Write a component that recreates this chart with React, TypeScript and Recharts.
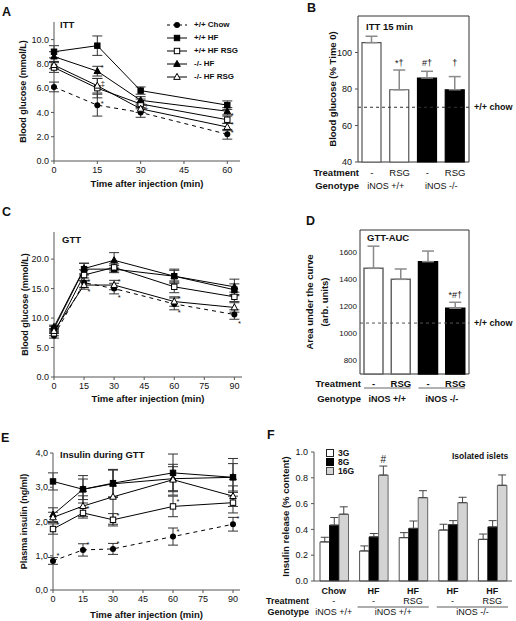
import React from "react";
import {
  LineChart,
  Line,
  BarChart,
  Bar,
  XAxis,
  YAxis,
  ErrorBar,
  LabelList,
  Legend,
  ReferenceLine,
  ReferenceArea,
  Cell,
} from "recharts";

const FONT = '"Liberation Sans", Arial, Helvetica, sans-serif';
const INK = "#111";
const AXIS = "#555";

// mouse groups shown in A, C and E
const groupNames = ["+/+ Chow", "+/+ HF", "+/+ HF RSG", "-/- HF", "-/- HF RSG"];

// A: insulin tolerance test, blood glucose (mmol/L)
const ittTimes = [0, 15, 30, 60];
const ittChow = [6.1, 4.6, 4.0, 2.2];
const ittHF = [9.0, 9.5, 5.8, 4.6];
const ittHFRsg = [7.7, 6.0, 4.7, 3.4];
const ittKoHF = [8.6, 7.4, 5.0, 4.1];
const ittKoHFRsg = [7.9, 6.2, 4.3, 2.8];
const ittChowErr = [0.4, 0.9, 0.4, 0.4];
const ittHFErr = [0.5, 0.8, 0.3, 0.35];
const ittHFRsgErr = [0.4, 0.8, 0.4, 0.3];
const ittKoHFErr = [0.4, 0.4, 0.3, 0.3];
const ittKoHFRsgErr = [0.3, 0.6, 0.3, 0.3];
const ittChowSig = ["", "*", "", "*"];
const ittHFSig = ["", "", "", ""];
const ittHFRsgSig = ["", "‡", "", "*"];
const ittKoHFSig = ["", "*", "", ""];
const ittKoHFRsgSig = ["", "", "‡", "*"];

// B: ITT 15 min, % of time 0
const ittPctTreat = ["-", "RSG", "-", "RSG"];
const ittPctGeno = ["iNOS +/+", "iNOS -/-"];
const ittPct = [105.4, 79.6, 86.0, 79.6];
const ittPctErr = [3.5, 10.8, 3.7, 7.2];
const ittPctSig = ["", "*†", "#†", "†"];
const ittPctChow = 70;

// C: glucose tolerance test, blood glucose (mmol/L)
const gttTimes = [0, 15, 30, 60, 90];
const gttChow = [7.0, 16.0, 15.0, 12.4, 10.6];
const gttHF = [8.2, 18.3, 18.3, 17.1, 14.8];
const gttHFRsg = [7.4, 17.3, 18.6, 15.3, 13.6];
const gttKoHF = [8.5, 18.4, 19.8, 17.1, 15.3];
const gttKoHFRsg = [7.8, 15.6, 15.6, 12.8, 11.8];
const gttChowErr = [0.4, 0.8, 0.9, 1.0, 0.8];
const gttHFErr = [0.4, 1.0, 0.6, 1.2, 1.0];
const gttHFRsgErr = [0.4, 0.9, 0.6, 1.0, 0.8];
const gttKoHFErr = [0.3, 0.9, 1.3, 1.0, 1.3];
const gttKoHFRsgErr = [0.3, 0.7, 0.8, 0.8, 0.8];
const gttChowSig = ["", "*", "*", "*", "*"];
const gttHFSig = ["", "", "", "", ""];
const gttHFRsgSig = ["", "", "", "", ""];
const gttKoHFSig = ["", "", "", "", ""];
const gttKoHFRsgSig = ["", "*", "*", "*", ""];

// D: GTT area under the curve
const aucTreat = ["-", "RSG", "-", "RSG"];
const aucGeno = ["iNOS +/+", "iNOS -/-"];
const auc = [1478, 1397, 1527, 1184];
const aucErr = [163, 76, 78, 44];
const aucSig = ["", "", "", "*#†"];
const aucChow = 1075;

// E: plasma insulin during GTT (ng/ml)
const insTimes = [0, 15, 30, 60, 90];
const insChow = [0.85, 1.17, 1.2, 1.56, 1.92];
const insHF = [3.17, 2.94, 3.12, 3.42, 3.29];
const insHFRsg = [1.78, 2.25, 2.05, 2.44, 2.55];
const insKoHF = [2.2, 2.94, 3.1, 3.25, 3.29];
const insKoHFRsg = [2.12, 2.45, 2.72, 3.22, 2.74];
const insChowErr = [0.1, 0.18, 0.16, 0.25, 0.2];
const insHFErr = [0.25, 0.4, 0.4, 0.55, 0.55];
const insHFRsgErr = [0.15, 0.15, 0.18, 0.3, 0.3];
const insKoHFErr = [0.2, 0.3, 0.4, 0.35, 0.4];
const insKoHFRsgErr = [0.15, 0.3, 0.8, 0.45, 0.3];
const insChowSig = ["*", "*", "*", "*", "*"];
const insHFSig = ["", "", "", "", ""];
const insHFRsgSig = ["*", "*", "*", "*", ""];
const insKoHFSig = ["", "", "", "", ""];
const insKoHFRsgSig = ["", "", "", "", ""];

// F: isolated islets, insulin release (% content)
const islDiet = ["Chow", "HF", "HF", "HF", "HF"];
const islTreat = ["-", "-", "RSG", "-", "RSG"];
const islGeno = ["iNOS +/+", "iNOS +/+", "iNOS -/-"];
const islGenoSpan = [[0, 0], [1, 2], [3, 4]];
const islLevels = ["3G", "8G", "16G"];
const isl3G = [0.303, 0.233, 0.336, 0.395, 0.323];
const isl8G = [0.433, 0.342, 0.408, 0.437, 0.419];
const isl16G = [0.518, 0.821, 0.646, 0.607, 0.742];
const isl3GErr = [0.036, 0.039, 0.039, 0.045, 0.041];
const isl8GErr = [0.059, 0.026, 0.057, 0.031, 0.049];
const isl16GErr = [0.057, 0.07, 0.054, 0.042, 0.08];
const isl16GSig = ["", "#", "", "", ""];

type Shape = "circle" | "square" | "openSquare" | "triangle" | "openTriangle";
const shapes: Shape[] = ["circle", "square", "openSquare", "triangle", "openTriangle"];
const islFills = ["#fff", "#000", "#d4d4d4"];
const islStrokes = ["#222", "#000", "#444"];

function Marker({ cx, cy, shape }: { cx?: number; cy?: number; shape: Shape }) {
  if (cx == null || cy == null) return null;
  const s = 2.7;
  const open = shape === "openSquare" || shape === "openTriangle";
  const fill = open ? "#fff" : "#000";
  if (shape === "circle") return <circle cx={cx} cy={cy} r={3} fill="#000" />;
  if (shape === "square" || shape === "openSquare")
    return <rect x={cx - s} y={cy - s} width={2 * s} height={2 * s} fill={fill} stroke="#000" strokeWidth={1} />;
  return (
    <polygon
      points={`${cx},${cy - 3.6} ${cx - 3.3},${cy + 2.4} ${cx + 3.3},${cy + 2.4}`}
      fill={fill}
      stroke="#000"
      strokeWidth={1}
    />
  );
}

const vbOf = (p: any) => {
  const vb = p.viewBox ?? {};
  return {
    x: vb.x ?? p.x,
    y: vb.y ?? p.y,
    width: vb.width ?? p.width ?? 0,
    height: vb.height ?? p.height ?? 0,
  };
};

const yTitle = (lines: string[], xs: number[], size: number) => (p: any) => {
  const vb = p.viewBox ?? {};
  const cy = (vb.y ?? 0) + (vb.height ?? 0) / 2;
  return (
    <g>
      {lines.map((t, i) => (
        <text
          key={i}
          x={xs[i]}
          y={cy}
          transform={`rotate(-90 ${xs[i]} ${cy})`}
          textAnchor="middle"
          dominantBaseline="central"
          fontSize={size}
          fontWeight={700}
          style={{ fill: INK }}
        >
          {t}
        </text>
      ))}
    </g>
  );
};

const xTitle = (text: string, dy: number) => (p: any) => {
  const vb = p.viewBox ?? {};
  return (
    <text
      x={(vb.x ?? 0) + (vb.width ?? 0) / 2}
      y={(vb.y ?? 0) + dy}
      textAnchor="middle"
      dominantBaseline="central"
      fontSize={9.5}
      fontWeight={700}
      style={{ fill: INK }}
    >
      {text}
    </text>
  );
};

const pointSig = (dy: number) => (p: any) => {
  const { x, y } = vbOf(p);
  if (!p.value || x == null) return null;
  return (
    <text x={x + 3.5} y={y + dy + 4} fontSize={7.5} style={{ fill: INK }}>
      {p.value}
    </text>
  );
};

const GroupLegend = () => (
  <div style={{ fontSize: 8, fontWeight: 700, color: INK, fontFamily: FONT }}>
    {groupNames.map((n, k) => (
      <div key={n} style={{ display: "flex", alignItems: "center", height: 12.9 }}>
        <svg width={24} height={10}>
          <line x1={2} x2={22} y1={5} y2={5} stroke="#000" strokeDasharray={k === 0 ? "3 3" : undefined} />
          <Marker cx={12} cy={5} shape={shapes[k]} />
        </svg>
        <span style={{ marginLeft: 5, whiteSpace: "nowrap" }}>{n}</span>
      </div>
    ))}
  </div>
);

interface TimeCourseProps {
  times: number[];
  values: number[][];
  errors: number[][];
  sigs: string[][];
  sigDy: number[];
  width: number;
  height: number;
  margin: { top: number; right: number; bottom: number; left: number };
  yAxisWidth: number;
  xMax: number;
  xTicks: number[];
  yMax: number;
  yTicks: number[];
  yFmt: (v: number) => string;
  yLabel: string;
  yLabelX: number;
  xLabelDy: number;
  legend?: boolean;
}

function TimeCourse(props: TimeCourseProps) {
  const rows = props.times.map((t, i) => {
    const r: Record<string, number | string> = { t };
    props.values.forEach((vals, k) => {
      r[`v${k}`] = vals[i];
      r[`e${k}`] = props.errors[k][i];
      r[`s${k}`] = props.sigs[k][i];
    });
    return r;
  });
  return (
    <LineChart width={props.width} height={props.height} data={rows} margin={props.margin}>
      <XAxis
        dataKey="t"
        type="number"
        domain={[0, props.xMax]}
        ticks={props.xTicks}
        height={30}
        stroke={AXIS}
        tickSize={3}
        tickMargin={3}
        tick={{ fontSize: 9, fill: INK }}
        label={xTitle("Time after injection (min)", props.xLabelDy)}
      />
      <YAxis
        type="number"
        domain={[0, props.yMax]}
        ticks={props.yTicks}
        width={props.yAxisWidth}
        stroke={AXIS}
        tickSize={3}
        tickMargin={2}
        tickFormatter={props.yFmt}
        tick={{ fontSize: 9, fill: INK }}
        label={yTitle([props.yLabel], [props.yLabelX], 9)}
      />
      {props.legend && (
        <Legend
          layout="vertical"
          align="center"
          verticalAlign="middle"
          wrapperStyle={{ left: 165, top: 18.5, width: 95 }}
          content={() => <GroupLegend />}
        />
      )}
      {props.values.map((_, k) => (
        <Line
          key={k}
          dataKey={`v${k}`}
          stroke="#000"
          strokeWidth={1}
          strokeDasharray={k === 0 ? "4 4" : undefined}
          isAnimationActive={false}
          dot={(p: any) => <Marker key={`m${k}-${p.index}`} cx={p.cx} cy={p.cy} shape={shapes[k]} />}
          activeDot={false}
        >
          <ErrorBar dataKey={`e${k}`} width={5} stroke="#333" strokeWidth={1} direction="y" />
          <LabelList dataKey={`s${k}`} content={pointSig(props.sigDy[k])} />
        </Line>
      ))}
    </LineChart>
  );
}

interface TreatTickCfg {
  treat: string[];
  geno: string[];
  band: number;
  treatY: number;
  genoY: number;
  lineY?: number;
  bold: boolean;
}

const treatTick = (cfg: TreatTickCfg) => (p: any) => {
  const i: number = p.index ?? p.payload?.index ?? 0;
  const { x, y } = p;
  const w = cfg.bold ? 700 : 400;
  const left = x - cfg.band / 2 + 1;
  return (
    <g style={{ fill: INK }}>
      {i === 0 && (
        <>
          <text x={left} y={y + cfg.treatY} textAnchor="end" fontSize={9.5} fontWeight={700}>
            Treatment
          </text>
          <text x={left} y={y + cfg.genoY} textAnchor="end" fontSize={9.5} fontWeight={700}>
            Genotype
          </text>
        </>
      )}
      <text x={x} y={y + cfg.treatY} textAnchor="middle" fontSize={9.5} fontWeight={w}>
        {cfg.treat[i]}
      </text>
      {i % 2 === 0 && (
        <>
          {cfg.lineY != null && (
            <line
              x1={x - cfg.band / 2 + 4}
              x2={x + cfg.band * 1.5 - 4}
              y1={y + cfg.lineY}
              y2={y + cfg.lineY}
              stroke="#999"
              strokeWidth={1.5}
            />
          )}
          <text x={x + cfg.band / 2} y={y + cfg.genoY} textAnchor="middle" fontSize={9} fontWeight={w}>
            {cfg.geno[i / 2]}
          </text>
        </>
      )}
    </g>
  );
};

const barSig = (errs: number[], pxPerUnit: number, gap: number, size: number, fixedY?: number) => (p: any) => {
  const { x, y, width } = vbOf(p);
  const i: number = p.index ?? 0;
  if (!p.value || x == null) return null;
  const ty = fixedY ?? y - errs[i] * pxPerUnit - gap;
  return (
    <text x={x + width / 2} y={ty} textAnchor="middle" fontSize={size} style={{ fill: INK }}>
      {p.value}
    </text>
  );
};

const islTick = (p: any) => {
  const i: number = p.index ?? p.payload?.index ?? 0;
  const { x, y } = p;
  const band = 39.6;
  const span = islGenoSpan.findIndex((s) => s[0] === i);
  return (
    <g style={{ fill: INK }}>
      {i === 0 && (
        <>
          <text x={x - band / 2 - 5} y={y + 22.5} textAnchor="end" fontSize={9} fontWeight={700}>
            Treatment
          </text>
          <text x={x - band / 2 - 5} y={y + 33.5} textAnchor="end" fontSize={9} fontWeight={700}>
            Genotype
          </text>
        </>
      )}
      <text x={x} y={y + 12.5} textAnchor="middle" fontSize={9} fontWeight={700}>
        {islDiet[i]}
      </text>
      <text x={x} y={y + 22.5} textAnchor="middle" fontSize={9}>
        {islTreat[i]}
      </text>
      {span >= 0 && (
        <>
          {islGenoSpan[span][1] > i && (
            <line
              x1={x - band / 2 + 4}
              x2={x + (islGenoSpan[span][1] - i + 0.5) * band - 4}
              y1={y + 26}
              y2={y + 26}
              stroke="#333"
              strokeWidth={0.8}
            />
          )}
          <text
            x={x + ((islGenoSpan[span][1] - i) * band) / 2}
            y={y + 33.5}
            textAnchor="middle"
            fontSize={9}
          >
            {islGeno[span]}
          </text>
        </>
      )}
    </g>
  );
};

const IslLegend = () => (
  <div style={{ fontSize: 8.5, fontWeight: 700, color: INK, fontFamily: FONT }}>
    {islLevels.map((lv, k) => (
      <div key={lv} style={{ display: "flex", alignItems: "center", height: 9 }}>
        <span
          style={{
            display: "inline-block",
            width: 6,
            height: 6,
            background: islFills[k],
            border: `1px solid ${islStrokes[k]}`,
          }}
        />
        <span style={{ marginLeft: 4 }}>{lv}</span>
      </div>
    ))}
  </div>
);

const Tag = ({ x, y, size, children }: { x: number; y: number; size: number; children: React.ReactNode }) => (
  <div
    style={{
      position: "absolute",
      left: x,
      top: y - size * 0.49,
      fontSize: size,
      fontWeight: 700,
      lineHeight: 1,
      whiteSpace: "nowrap",
    }}
  >
    {children}
  </div>
);

const fixed1 = (v: number) => v.toFixed(1);

export default function App() {
  const pctRows = ittPct.map((v, i) => ({ id: `b${i}`, v, e: [0, ittPctErr[i]], sig: ittPctSig[i] }));
  const aucRows = auc.map((v, i) => ({ id: `d${i}`, v, e: [0, aucErr[i]], sig: aucSig[i] }));
  const islRows = islDiet.map((d, i) => ({
    id: `f${i}`,
    g3: isl3G[i],
    g8: isl8G[i],
    g16: isl16G[i],
    e3: [0, isl3GErr[i]],
    e8: [0, isl8GErr[i]],
    e16: [0, isl16GErr[i]],
    sig: isl16GSig[i],
  }));
  const pairFill = ["#fff", "#fff", "#000", "#000"];
  const pairStroke = ["#555", "#555", "#000", "#000"];

  return (
    <div
      style={{
        position: "absolute",
        left: 0,
        top: 0,
        width: 516,
        height: 621,
        background: "#fff",
        fontFamily: FONT,
        color: INK,
        overflow: "hidden",
      }}
    >
      {/* A */}
      <div style={{ position: "absolute", left: 0, top: 0 }}>
        <TimeCourse
          times={ittTimes}
          values={[ittChow, ittHF, ittHFRsg, ittKoHF, ittKoHFRsg]}
          errors={[ittChowErr, ittHFErr, ittHFRsgErr, ittKoHFErr, ittKoHFRsgErr]}
          sigs={[ittChowSig, ittHFSig, ittHFRsgSig, ittKoHFSig, ittKoHFRsgSig]}
          sigDy={[-3, -4, -6, -5, -4]}
          width={260}
          height={200}
          margin={{ top: 22, right: 20, bottom: 9, left: 0 }}
          yAxisWidth={54}
          xMax={64.4}
          xTicks={[0, 15, 30, 45, 60]}
          yMax={11.45}
          yTicks={[0, 2, 4, 6, 8, 10]}
          yFmt={fixed1}
          yLabel="Blood glucose (mmol/L)"
          yLabelX={23}
          xLabelDy={22}
          legend
        />
      </div>

      {/* B */}
      <div style={{ position: "absolute", left: 260, top: 0 }}>
        <BarChart width={256} height={200} data={pctRows} margin={{ top: 16, right: 47, bottom: 0, left: 0 }}>
          <XAxis
            dataKey="id"
            height={38}
            axisLine={false}
            tickLine={false}
            tickSize={0}
            tickMargin={0}
            interval={0}
            tick={treatTick({ treat: ittPctTreat, geno: ittPctGeno, band: 27.75, treatY: 13.5, genoY: 26.5, bold: false })}
          />
          <YAxis
            domain={[40, 120]}
            ticks={[40, 60, 80, 100]}
            width={98}
            axisLine={false}
            stroke={AXIS}
            tickSize={3}
            tickMargin={3}
            tick={{ fontSize: 9, fill: INK }}
            label={yTitle(["Blood glucose (% Time 0)"], [72], 9.5)}
          />
          <Bar dataKey="v" barSize={19} isAnimationActive={false}>
            {pctRows.map((_, i) => (
              <Cell key={i} fill={pairFill[i]} stroke={pairStroke[i]} strokeWidth={1.2} />
            ))}
            <ErrorBar dataKey="e" width={6} stroke="#8a8a8a" strokeWidth={1.5} direction="y" />
            <LabelList dataKey="sig" content={barSig(ittPctErr, 1.825, 5, 9, 66)} />
          </Bar>
          <ReferenceLine
            y={ittPctChow}
            stroke="#333"
            strokeDasharray="3 3"
            label={{ value: "+/+ chow", position: "right", fontSize: 9, fontWeight: 700, fill: INK }}
          />
          <ReferenceArea y1={40} y2={120} fill="none" stroke="#333" strokeWidth={1} ifOverflow="visible" />
        </BarChart>
      </div>

      {/* C */}
      <div style={{ position: "absolute", left: 0, top: 205 }}>
        <TimeCourse
          times={gttTimes}
          values={[gttChow, gttHF, gttHFRsg, gttKoHF, gttKoHFRsg]}
          errors={[gttChowErr, gttHFErr, gttHFRsgErr, gttKoHFErr, gttKoHFRsgErr]}
          sigs={[gttChowSig, gttHFSig, gttHFRsgSig, gttKoHFSig, gttKoHFRsgSig]}
          sigDy={[7, 0, 0, 0, -5]}
          width={260}
          height={205}
          margin={{ top: 27, right: 18, bottom: 3, left: 0 }}
          yAxisWidth={54}
          xMax={93.8}
          xTicks={[0, 15, 30, 45, 60, 75, 90]}
          yMax={24.6}
          yTicks={[0, 5, 10, 15, 20]}
          yFmt={fixed1}
          yLabel="Blood glucose (mmol/L)"
          yLabelX={25}
          xLabelDy={21}
        />
      </div>

      {/* D */}
      <div style={{ position: "absolute", left: 260, top: 205 }}>
        <BarChart width={256} height={210} data={aucRows} margin={{ top: 25, right: 47, bottom: 0, left: 0 }}>
          <XAxis
            dataKey="id"
            height={41}
            axisLine={false}
            tickLine={false}
            tickSize={0}
            tickMargin={0}
            interval={0}
            tick={treatTick({ treat: aucTreat, geno: aucGeno, band: 27.25, treatY: 12.5, genoY: 27.5, lineY: 14, bold: true })}
          />
          <YAxis
            domain={[700, 1760]}
            ticks={[800, 1000, 1200, 1400, 1600]}
            width={100}
            axisLine={false}
            tickLine={false}
            tickSize={0}
            tickMargin={3}
            tick={{ fontSize: 8, fill: INK }}
            label={yTitle(["Area under the curve", "(arb. units)"], [49, 64], 9.5)}
          />
          <Bar dataKey="v" barSize={19} isAnimationActive={false}>
            {aucRows.map((_, i) => (
              <Cell key={i} fill={pairFill[i]} stroke={i < 2 ? "#666" : "#000"} strokeWidth={1.5} />
            ))}
            <ErrorBar dataKey="e" width={6} stroke="#8a8a8a" strokeWidth={1.5} direction="y" />
            <LabelList dataKey="sig" content={barSig(aucErr, 144 / 1060, 4, 9)} />
          </Bar>
          <ReferenceLine
            y={aucChow}
            stroke="#555"
            strokeDasharray="3 3"
            label={{ value: "+/+ chow", position: "right", fontSize: 9, fontWeight: 700, fill: INK }}
          />
          <ReferenceArea y1={700} y2={1760} fill="none" stroke="#333" strokeWidth={1} ifOverflow="visible" />
        </BarChart>
      </div>

      {/* E */}
      <div style={{ position: "absolute", left: 0, top: 410 }}>
        <TimeCourse
          times={insTimes}
          values={[insChow, insHF, insHFRsg, insKoHF, insKoHFRsg]}
          errors={[insChowErr, insHFErr, insHFRsgErr, insKoHFErr, insKoHFRsgErr]}
          sigs={[insChowSig, insHFSig, insHFRsgSig, insKoHFSig, insKoHFRsgSig]}
          sigDy={[-7, -7, -6, -7, -7]}
          width={260}
          height={211}
          margin={{ top: 43, right: 20, bottom: 1, left: 0 }}
          yAxisWidth={53}
          xMax={93.5}
          xTicks={[0, 15, 30, 45, 60, 75, 90]}
          yMax={4}
          yTicks={[0, 1, 2, 3, 4]}
          yFmt={(v) => v.toFixed(1).replace(".", ",")}
          yLabel="Plasma insulin (ng/ml)"
          yLabelX={24}
          xLabelDy={24}
        />
      </div>

      {/* F */}
      <div style={{ position: "absolute", left: 260, top: 410 }}>
        <BarChart
          width={256}
          height={211}
          data={islRows}
          margin={{ top: 42, right: 4, bottom: 0, left: 0 }}
          barGap={0}
        >
          <XAxis
            dataKey="id"
            height={40}
            stroke={AXIS}
            tickLine={false}
            tickSize={0}
            tickMargin={0}
            interval={0}
            tick={islTick}
          />
          <YAxis
            domain={[0, 1]}
            ticks={[0, 0.2, 0.4, 0.6, 0.8, 1]}
            width={54}
            stroke={AXIS}
            tickSize={3}
            tickMargin={3}
            tickFormatter={fixed1}
            tick={{ fontSize: 9, fill: INK }}
            label={yTitle(["Insulin release (% content)"], [25], 9.5)}
          />
          <Legend
            layout="vertical"
            align="center"
            verticalAlign="middle"
            wrapperStyle={{ left: 66, top: 38.5, width: 40 }}
            content={() => <IslLegend />}
          />
          <Bar dataKey="g3" barSize={9.5} fill={islFills[0]} stroke={islStrokes[0]} strokeWidth={0.8} isAnimationActive={false}>
            <ErrorBar dataKey="e3" width={4} stroke="#444" strokeWidth={1} direction="y" />
          </Bar>
          <Bar dataKey="g8" barSize={9.5} fill={islFills[1]} stroke={islStrokes[1]} strokeWidth={0.8} isAnimationActive={false}>
            <ErrorBar dataKey="e8" width={4} stroke="#444" strokeWidth={1} direction="y" />
          </Bar>
          <Bar dataKey="g16" barSize={9.5} fill={islFills[2]} stroke={islStrokes[2]} strokeWidth={0.8} isAnimationActive={false}>
            <ErrorBar dataKey="e16" width={4} stroke="#444" strokeWidth={1} direction="y" />
            <LabelList dataKey="sig" content={barSig(isl16GErr, 129, 3.5, 10)} />
          </Bar>
        </BarChart>
      </div>

      {/* panel letters and titles */}
      <Tag x={2} y={12} size={12.5}>A</Tag>
      <Tag x={307} y={8} size={12.5}>B</Tag>
      <Tag x={2} y={212} size={12.5}>C</Tag>
      <Tag x={306} y={221} size={12.5}>D</Tag>
      <Tag x={1} y={438} size={12.5}>E</Tag>
      <Tag x={267} y={435} size={12.5}>F</Tag>
      <Tag x={60} y={25} size={9.5}>ITT</Tag>
      <Tag x={366} y={27} size={9.5}>ITT 15 min</Tag>
      <Tag x={62} y={240} size={9.5}>GTT</Tag>
      <Tag x={367} y={238} size={9.5}>GTT-AUC</Tag>
      <Tag x={60} y={455} size={9.5}>Insulin during GTT</Tag>
      <Tag x={452} y={456} size={8.5}>Isolated islets</Tag>
    </div>
  );
}
